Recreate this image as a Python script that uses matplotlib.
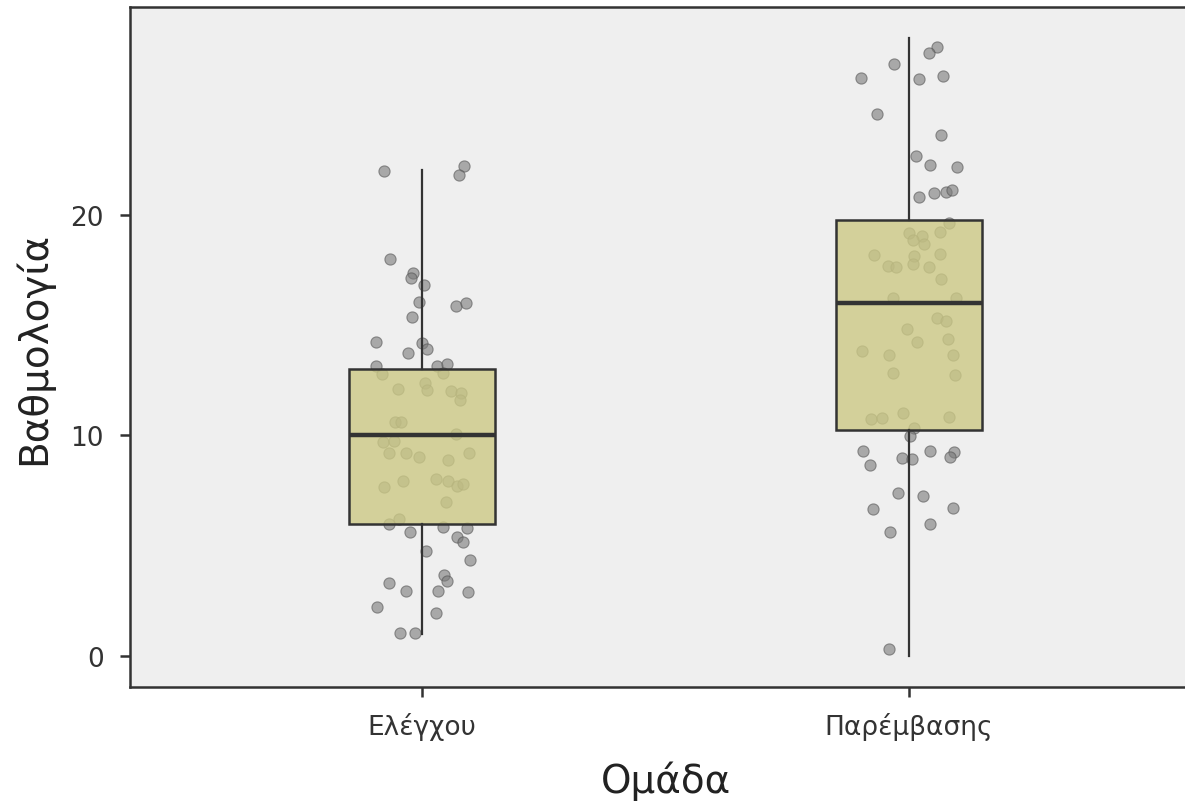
import numpy as np
import matplotlib
matplotlib.use("Agg")
import matplotlib.pyplot as plt

plt.rcParams['font.family'] = ['DejaVu Sans']

groups = ['Ελέγχου', 'Παρέμβασης']

# box statistics per group
q1 = [6, 10.25]
med = [10, 16]
q3 = [13, 19.75]
whislo = [1, 0]
whishi = [22, 28]

# jittered points (x offset from group centre, y value as drawn)
ctrl_dx = [-0.079, 0.086, 0.076, -0.066, -0.019, -0.023, 0.003, -0.006, 0.069, 0.090,
           -0.021, -0.094, 0.000, 0.011, -0.028, -0.094, 0.031, 0.052, -0.082, 0.042,
           -0.049, 0.006, 0.010, 0.060, 0.079, 0.077, -0.055, -0.043, 0.070, -0.081,
           -0.057, -0.067, -0.033, -0.006, 0.054, 0.097, -0.040, -0.079, 0.028, 0.053,
           0.072, 0.084, 0.049, -0.069, -0.047, -0.025, 0.043, 0.072, 0.085, 0.092,
           0.008, 0.099, 0.045, 0.051, -0.068, -0.034, 0.032, 0.095, -0.092, 0.028,
           -0.045, -0.015]
ctrl_y = [21.95, 22.18, 21.8, 18.0, 17.35, 17.12, 16.8, 16.04, 15.85, 16.0,
          15.34, 14.24, 14.19, 13.9, 13.71, 13.14, 13.14, 13.21, 12.78, 12.81,
          12.1, 12.36, 12.05, 12.0, 11.9, 11.6, 10.62, 10.62, 10.05, 9.68,
          9.72, 9.22, 9.22, 9.0, 8.86, 9.19, 7.95, 7.67, 8.04, 7.91,
          7.72, 7.8, 6.97, 5.99, 6.19, 5.6, 5.84, 5.4, 5.15, 5.81,
          4.77, 4.35, 3.67, 3.4, 3.33, 2.93, 2.95, 2.9, 2.21, 1.96,
          1.04, 1.04]

treat_dx = [0.057, 0.042, -0.031, -0.099, 0.021, 0.070, -0.066, 0.065, 0.014, 0.044,
            0.099, 0.020, 0.051, 0.077, 0.088, 0.083, 0.001, 0.026, 0.009, 0.031,
            0.064, -0.071, 0.011, 0.064, -0.043, -0.027, 0.009, 0.041, 0.065, -0.032,
            0.096, 0.057, 0.076, -0.003, 0.016, 0.081, -0.097, -0.041, 0.090, -0.032,
            0.094, -0.078, -0.056, -0.012, 0.082, 0.011, 0.003, -0.094, -0.080, -0.015,
            0.007, 0.043, 0.092, 0.084, -0.023, 0.029, -0.073, 0.090, 0.043, -0.038,
            -0.040]
treat_y = [27.6, 27.31, 26.8, 26.17, 26.14, 26.28, 24.57, 23.58, 22.63, 22.23,
           22.15, 20.81, 20.99, 21.0, 21.13, 19.62, 19.16, 19.05, 18.83, 18.68,
           19.22, 18.16, 18.1, 18.22, 17.65, 17.62, 17.74, 17.62, 17.1, 16.24,
           16.22, 15.32, 15.18, 14.8, 14.21, 14.36, 13.81, 13.63, 13.62, 12.84,
           12.73, 10.74, 10.8, 11.0, 10.85, 10.32, 9.98, 9.28, 8.64, 8.98,
           8.94, 9.3, 9.26, 9.02, 7.39, 7.25, 6.67, 6.73, 6.0, 5.63,
           0.32]

fig = plt.figure(figsize=(11.85, 8.04), dpi=100)
ax = fig.add_axes([130 / 1185, 116 / 804, 1071 / 1185, 680 / 804])
ax.set_facecolor('#efefef')

dark = '#333333'
for i, (dx, ys) in enumerate([(ctrl_dx, ctrl_y), (treat_dx, treat_y)]):
    xs = np.array(dx) + (i + 1)
    ax.scatter(xs, ys, s=65, facecolor='#7a7a7a', edgecolor='#555555',
               linewidth=0.8, alpha=0.6, zorder=2)

stats = []
for i in range(len(groups)):
    stats.append(dict(med=med[i], q1=q1[i], q3=q3[i],
                      whislo=whislo[i], whishi=whishi[i], fliers=[]))
ax.bxp(stats, positions=[1, 2], widths=0.3, showcaps=False, patch_artist=True,
       boxprops=dict(facecolor=(0.80, 0.79, 0.52, 0.8), edgecolor=dark, linewidth=1.8),
       whiskerprops=dict(color=dark, linewidth=1.6),
       medianprops=dict(color=dark, linewidth=3.2),
       manage_ticks=False, zorder=3)

ax.set_xlim(0.4, 2.6)
ax.set_ylim(-1.4, 29.4)
ax.set_xticks([1, 2])
ax.set_xticklabels(groups)
ax.set_yticks([0, 10, 20])
for s in ax.spines.values():
    s.set_color(dark)
    s.set_linewidth(1.8)
ax.tick_params(axis='both', length=7, width=1.8, color=dark, labelsize=19,
               labelcolor='#333333')
ax.tick_params(axis='y', pad=12)
ax.tick_params(axis='x', pad=11)
ax.set_xlabel('Ομάδα', fontsize=28, color='#222222', labelpad=15)
ax.set_ylabel('Βαθμολογία', fontsize=28, color='#222222', labelpad=12)

fig.savefig('out.png', dpi=100)
